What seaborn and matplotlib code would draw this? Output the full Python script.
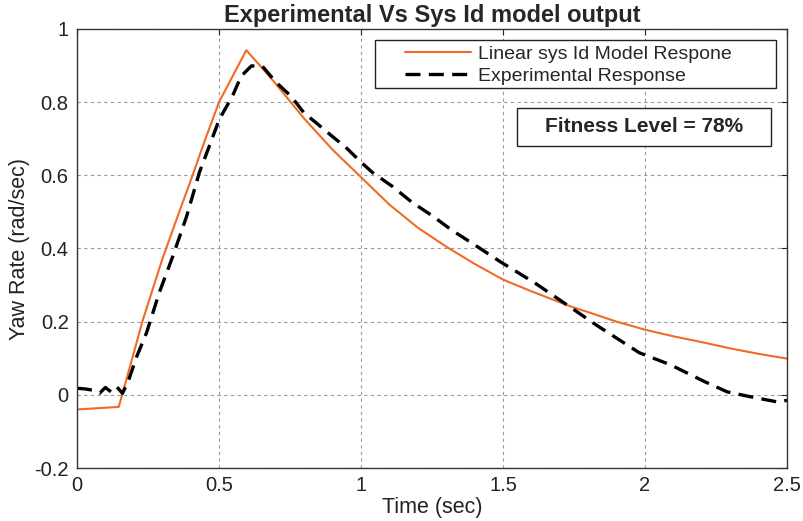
import matplotlib
matplotlib.use("Agg")
import matplotlib.pyplot as plt
import seaborn as sns
import pandas as pd
from matplotlib.patches import Rectangle

# ---- data ----
model_t = [0, 0.147, 0.2, 0.23, 0.3, 0.36, 0.4, 0.45, 0.5, 0.55, 0.596, 0.65, 0.7, 0.8, 0.9,
           1.0, 1.1, 1.2, 1.3, 1.4, 1.5, 1.6, 1.74, 1.8, 1.9, 2.0, 2.1, 2.2, 2.3, 2.4, 2.5]
model_y = [-0.04, -0.033, 0.115, 0.2, 0.37, 0.5, 0.585, 0.695, 0.8, 0.874, 0.942, 0.895, 0.85, 0.755, 0.67,
           0.595, 0.52, 0.457, 0.405, 0.358, 0.315, 0.283, 0.241, 0.226, 0.20, 0.178, 0.16, 0.144, 0.127, 0.112, 0.099]

exp_t = [0, 0.03, 0.06, 0.08, 0.1, 0.12, 0.14, 0.16, 0.18, 0.21, 0.245, 0.263, 0.29, 0.337, 0.386,
         0.431, 0.466, 0.501, 0.547, 0.578, 0.614, 0.652, 0.70, 0.754, 0.80, 0.84, 0.898, 0.946, 1.0,
         1.04, 1.11, 1.18, 1.25, 1.32, 1.4, 1.49, 1.61, 1.74, 1.83, 1.91, 1.98, 2.09, 2.21, 2.29, 2.37,
         2.47, 2.5]
exp_y = [0.018, 0.016, 0.012, 0.005, 0.02, 0.008, 0.022, 0.004, 0.036, 0.104, 0.17, 0.214, 0.28, 0.378, 0.488,
         0.608, 0.68, 0.753, 0.816, 0.871, 0.899, 0.899, 0.855, 0.816, 0.77, 0.745, 0.707, 0.677, 0.636,
         0.608, 0.57, 0.526, 0.49, 0.45, 0.41, 0.364, 0.307, 0.238, 0.19, 0.15, 0.115, 0.082, 0.036, 0.008, -0.005,
         -0.02, -0.015]

x_ticks = [0, 0.5, 1, 1.5, 2, 2.5]
x_labels = ["0", "0.5", "1", "1.5", "2", "2.5"]
y_ticks = [-0.2, 0, 0.2, 0.4, 0.6, 0.8, 1]
y_labels = ["-0.2", "0", "0.2", "0.4", "0.6", "0.8", "1"]

W, H = 804, 521

sns.set_theme(style="white")
plt.rcParams['font.family'] = ['Liberation Sans', 'DejaVu Sans']

fig = plt.figure(figsize=(8.04, 5.21), dpi=100)
ax = fig.add_axes([77 / W, 1 - 468 / H, (787 - 77) / W, (468 - 29) / H])

df_m = pd.DataFrame({"t": model_t, "y": model_y})
df_e = pd.DataFrame({"t": exp_t, "y": exp_y})

sns.lineplot(data=df_m, x="t", y="y", ax=ax, color="#f26a25", linewidth=1.5,
             label="Linear sys Id Model Respone", sort=False)
sns.lineplot(data=df_e, x="t", y="y", ax=ax, color="black", linewidth=2.4,
             label="Experimental Response", sort=False)
ax.lines[1].set_dashes((4.5, 2.5))

ax.set_xlim(0, 2.5)
ax.set_ylim(-0.2, 1)
ax.set_xticks(x_ticks)
ax.set_xticklabels(x_labels)
ax.set_yticks(y_ticks)
ax.set_yticklabels(y_labels)
ax.tick_params(direction="in", length=4, width=0.8, top=True, right=True,
               labelsize=14.5, colors="#222222", pad=6)
for s in ax.spines.values():
    s.set_visible(True)
    s.set_color("#333333")
    s.set_linewidth(1.0)

ax.grid(True, color="#9a9a9a", linestyle=(0, (3, 3)), linewidth=0.8)

ax.set_xlabel("Time (sec)", fontsize=15.5, color="#222222", labelpad=1)
ax.set_ylabel("Yaw Rate (rad/sec)", fontsize=15.5, color="#222222", labelpad=3)
ax.set_title("Experimental Vs Sys Id model output", fontsize=17, fontweight="bold", pad=5)

# legend frame (drawn by hand for MATLAB-like padding)
ax.add_patch(Rectangle((375 / W, 1 - 88 / H), 401 / W, 48 / H, transform=fig.transFigure,
                       facecolor="white", edgecolor="#222222", linewidth=1.0, zorder=4, clip_on=False))
leg = ax.legend(loc="center left", bbox_to_anchor=(405 / W, 1 - 65 / H), bbox_transform=fig.transFigure,
                fontsize=14, frameon=False, handlelength=3.4, borderpad=0, labelspacing=0.25,
                handletextpad=0.35, borderaxespad=0)
leg.set_zorder(5)

# fitness box
ax.add_patch(Rectangle((517 / W, 1 - 146 / H), 254 / W, 38 / H, transform=fig.transFigure,
                       facecolor="white", edgecolor="#222222", linewidth=1.0, zorder=4, clip_on=False))
ax.text(644 / W, 1 - 127 / H, "Fitness Level = 78%", transform=fig.transFigure, ha="center", va="center",
        fontsize=15, fontweight="bold", zorder=6)

fig.savefig("out.png", dpi=100)
